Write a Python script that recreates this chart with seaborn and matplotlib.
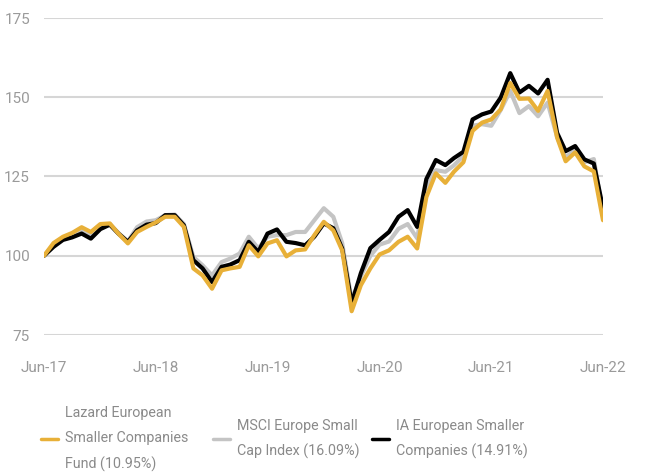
import matplotlib
matplotlib.use("Agg")
import matplotlib.pyplot as plt
from matplotlib.lines import Line2D
import seaborn as sns
import pandas as pd
import numpy as np

dates = pd.date_range("2017-06-30", periods=61, freq="ME")

lazard = [100, 104, 106, 107.2, 109, 107.5, 110, 110.2, 107, 103.9, 107.5, 109.1,
          110.5, 112.3, 112.3, 109.1, 96, 93.8, 89.6, 95.4, 96, 96.5, 103.3, 99.8,
          103.9, 104.9, 99.8, 101.7, 102, 106.5, 110.7, 108, 101.7, 82.5, 90.7, 96,
          100.4, 101.7, 104.4, 106, 102.3, 118.5, 126, 123, 126.5, 129.5, 139.4, 142,
          143, 146.2, 154.5, 149.5, 149.6, 145.7, 152, 137.3, 129.8, 132.6, 128.2, 126.6,
          111.2]
msci = [100, 103.4, 105.5, 106.5, 108, 106.5, 109.3, 110, 107.2, 104.5, 109, 110.8,
        111.2, 112.8, 113, 110, 99.6, 97, 93.8, 98, 99.1, 100.7, 106, 102.3,
        106, 106.5, 106.5, 107.5, 107.5, 111.2, 115, 112.3, 104, 86, 93.5, 100,
        103.5, 104.5, 108.5, 110, 105.5, 121.5, 127, 126.5, 128.5, 131.5, 141, 141.5,
        141, 146, 152, 145, 147.2, 144, 148.3, 137.5, 131, 133.5, 129.5, 130.5,
        113]
ia = [100, 102.8, 105, 105.8, 107, 105.4, 108.4, 109.8, 107, 104.4, 108, 109.8,
      110.3, 112.8, 112.8, 109.6, 98.6, 96, 91.7, 96.5, 97.2, 98.6, 104.4, 101.2,
      107, 108.3, 104.4, 104, 103.3, 106, 110.2, 108.7, 102.3, 85, 94.5, 102.4,
      105, 107.5, 112.3, 114.4, 109.1, 124.2, 130.2, 128.6, 130.8, 132.8, 143, 144.6,
      145.5, 149.9, 157.6, 151.5, 153.6, 151.2, 155.5, 138.8, 133, 134.6, 130.4, 129.1,
      115]

series_names = ["Lazard European\nSmaller Companies\nFund (10.95%)",
                "MSCI Europe Small\nCap Index (16.09%)",
                "IA European Smaller\nCompanies (14.91%)"]
colors = ["#E8B038", "#C4C4C4", "#000000"]
yticks = [75, 100, 125, 150, 175]
xtick_labels = ["Jun-17", "Jun-18", "Jun-19", "Jun-20", "Jun-21", "Jun-22"]

df = pd.DataFrame({"date": dates, series_names[0]: lazard,
                   series_names[1]: msci, series_names[2]: ia})
long = df.melt(id_vars="date", var_name="series", value_name="value")

sns.set_style("white")
plt.rcParams["font.family"] = ["Roboto", "DejaVu Sans"]

fig = plt.figure(figsize=(6.57, 4.73), dpi=100)
ax = fig.add_axes([44/657, 1-335/473, (603-44)/657, (335-18)/473])

palette = dict(zip(series_names, colors))
# draw order: gray, black, gold on top
for name in [series_names[1], series_names[2], series_names[0]]:
    sub = long[long["series"] == name]
    sns.lineplot(data=sub, x="date", y="value", color=palette[name], lw=3,
                 ax=ax, legend=False, zorder=3)

ax.set_ylim(75, 175)
ax.set_xlim(dates[0], dates[-1])
ax.set_yticks(yticks)
ax.set_yticklabels([str(v) for v in yticks])
ax.set_xticks([dates[i] for i in range(0, 61, 12)])
ax.set_xticklabels(xtick_labels)
ax.set_xlabel("")
ax.set_ylabel("")
for s in ax.spines.values():
    s.set_visible(False)
ax.grid(axis="y", color="#D6D6D6", lw=1.5, zorder=0)
ax.grid(axis="x", visible=False)
ax.tick_params(axis="both", length=0, labelsize=11, labelcolor="#9A9A9A")
ax.tick_params(axis="y", pad=10)
ax.tick_params(axis="x", pad=19)

legend_x = [41, 213, 372]
for name, col, lx in zip(series_names, colors, legend_x):
    h = Line2D([], [], color=col, lw=2.5)
    leg = fig.legend([h], [name], loc="center left",
                     bbox_to_anchor=(lx/657, 1-439/473),
                     frameon=False, fontsize=10.3, handlelength=1.17,
                     handletextpad=0.52, labelcolor="#8A8A8A",
                     borderpad=0, borderaxespad=0)
    for t in leg.get_texts():
        t.set_linespacing(1.95)

fig.savefig("out.png", dpi=100)
